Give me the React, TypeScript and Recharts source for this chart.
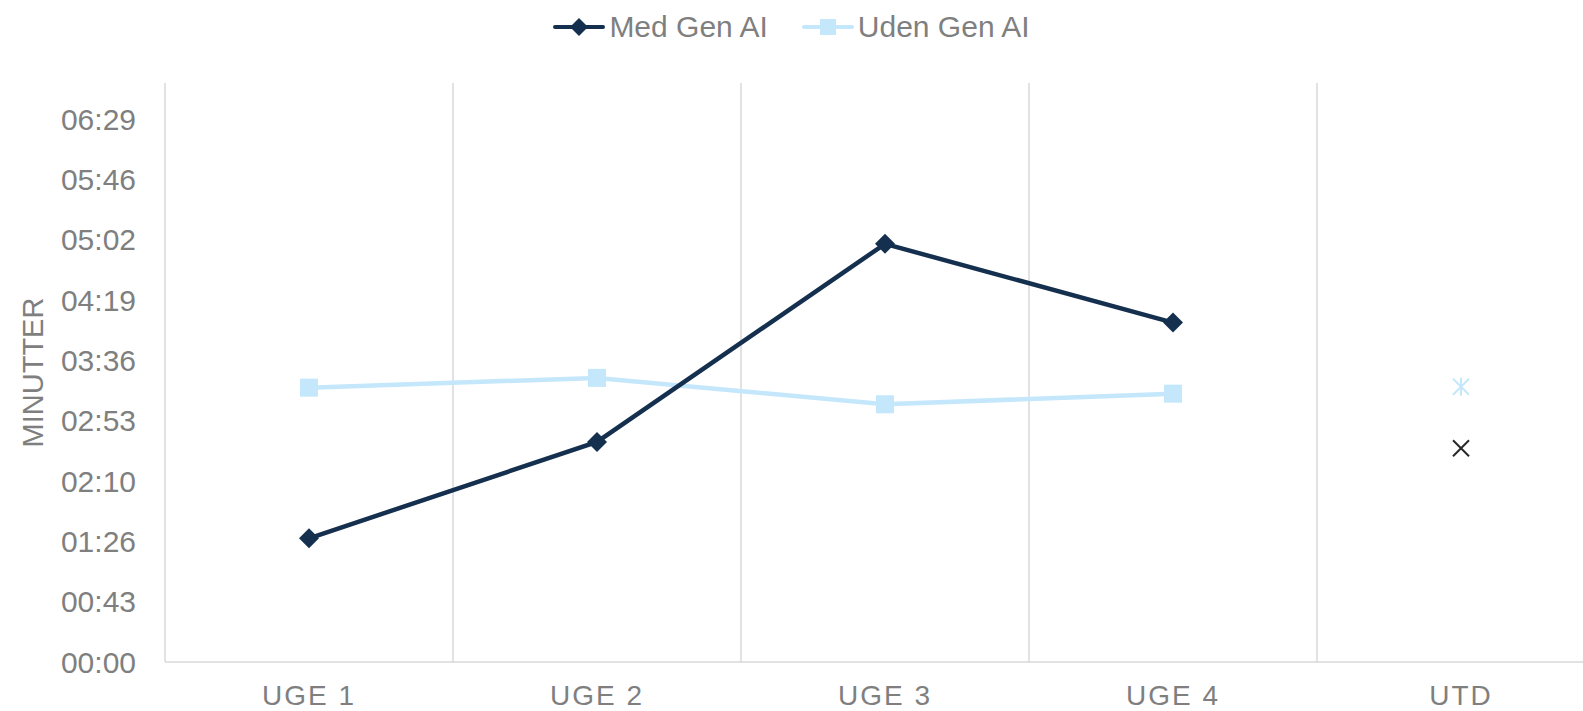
import React from 'react'
import { LineChart, Line, XAxis, YAxis, CartesianGrid } from 'recharts'

// values are in seconds
const categories = ['UGE 1', 'UGE 2', 'UGE 3', 'UGE 4', 'UTD']
const medGenAi = [88.6, 157.6, 299.5, 243.1, null]
const udenGenAi = [196.5, 203.5, 184.6, 192.2, null]
const medUtd = [null, null, null, null, 153.1]
const udenUtd = [null, null, null, null, 197.2]
const yTicks = [0, 43.2, 86.4, 129.6, 172.8, 216, 259.2, 302.4, 345.6, 388.8]
const yMax = 414.72

const DARK = '#15304f'
const LIGHT = '#c4e7fb'
const TEXT = '#7f7f7f'
const GRID = '#d9d9d9'
const FONT = '"Liberation Sans", Arial, sans-serif'

const CHART_W = 1640
const PLOT_LEFT = 165
const PLOT_RIGHT_MARGIN = 35
// half a category on each side so points sit in the middle of their band
const halfBand = (CHART_W - PLOT_LEFT - PLOT_RIGHT_MARGIN) / categories.length / 2

const data = categories.map((name, i) => ({
  name,
  med: medGenAi[i],
  uden: udenGenAi[i],
  medUtd: medUtd[i],
  udenUtd: udenUtd[i],
}))

function fmt(sec: number) {
  const s = Math.round(sec)
  const m = Math.floor(s / 60)
  const r = s % 60
  return String(m).padStart(2, '0') + ':' + String(r).padStart(2, '0')
}

const Diamond = ({ cx, cy, r = 10 }: any) =>
  cx == null || cy == null ? null : (
    <path d={`M${cx},${cy - r} L${cx + r},${cy} L${cx},${cy + r} L${cx - r},${cy} Z`} fill={DARK} />
  )

const Square = ({ cx, cy, s = 18 }: any) =>
  cx == null || cy == null ? null : (
    <rect x={cx - s / 2} y={cy - s / 2} width={s} height={s} fill={LIGHT} />
  )

const Cross = ({ cx, cy }: any) => {
  if (cx == null || cy == null) return null
  const d = 8
  return (
    <g stroke="#262626" strokeWidth={2}>
      <line x1={cx - d} y1={cy - d} x2={cx + d} y2={cy + d} />
      <line x1={cx - d} y1={cy + d} x2={cx + d} y2={cy - d} />
    </g>
  )
}

const Star = ({ cx, cy }: any) => {
  if (cx == null || cy == null) return null
  const d = 8
  return (
    <g stroke={LIGHT} strokeWidth={2}>
      <line x1={cx - d} y1={cy - d} x2={cx + d} y2={cy + d} />
      <line x1={cx - d} y1={cy + d} x2={cx + d} y2={cy - d} />
      <line x1={cx} y1={cy - d - 1} x2={cx} y2={cy + d + 1} />
    </g>
  )
}

function LegendItem({ color, label, square }: { color: string; label: string; square?: boolean }) {
  return (
    <div style={{ display: 'flex', alignItems: 'center' }}>
      <svg width={52} height={20}>
        <line x1={2} y1={10} x2={50} y2={10} stroke={color} strokeWidth={4} strokeLinecap="round" />
        {square ? <Square cx={26} cy={10} s={16} /> : <Diamond cx={26} cy={10} r={9} />}
      </svg>
      <span style={{ marginLeft: 4, fontSize: 30, color: TEXT }}>{label}</span>
    </div>
  )
}

export default function App() {
  return (
    <div
      style={{
        position: 'absolute',
        left: 0,
        top: 0,
        width: 1583,
        height: 711,
        overflow: 'hidden',
        background: '#fff',
        fontFamily: FONT,
      }}
    >
      <div
        style={{
          position: 'absolute',
          top: 10,
          left: 0,
          width: 1583,
          display: 'flex',
          justifyContent: 'center',
          gap: 34,
        }}
      >
        <LegendItem color={DARK} label="Med Gen AI" />
        <LegendItem color={LIGHT} label="Uden Gen AI" square />
      </div>
      <LineChart
        width={CHART_W}
        height={711}
        data={data}
        margin={{ top: 83, right: PLOT_RIGHT_MARGIN, left: 0, bottom: 0 }}
      >
        <CartesianGrid
          horizontal={false}
          stroke={GRID}
          strokeWidth={1.5}
          verticalCoordinatesGenerator={({ offset }: any) =>
            [0, 1, 2, 3, 4, 5].map((i) => offset.left + (i * offset.width) / categories.length)
          }
        />
        <XAxis
          dataKey="name"
          height={49}
          padding={{ left: halfBand, right: halfBand }}
          tickLine={false}
          tickSize={0}
          tickMargin={23}
          axisLine={{ stroke: GRID, strokeWidth: 1.5 }}
          tick={{ fill: TEXT, fontSize: 28, fontFamily: FONT, letterSpacing: 2 }}
        />
        <YAxis
          width={PLOT_LEFT}
          domain={[0, yMax]}
          ticks={yTicks}
          tickFormatter={fmt}
          axisLine={false}
          tickLine={false}
          tickSize={0}
          tickMargin={29}
          tick={{ fill: TEXT, fontSize: 30, fontFamily: FONT }}
          label={(props: any) => {
            const vb = props.viewBox
            const x = vb.x + 33
            const y = vb.y + vb.height / 2
            return (
              <text
                x={x}
                y={y}
                transform={`rotate(-90 ${x} ${y})`}
                textAnchor="middle"
                dominantBaseline="central"
                fill={TEXT}
                fontSize={29}
                fontFamily={FONT}
              >
                MINUTTER
              </text>
            )
          }}
        />
        <Line
          dataKey="uden"
          stroke={LIGHT}
          strokeWidth={4.5}
          dot={(p: any) => <Square key={'s' + p.index} cx={p.cx} cy={p.cy} />}
          activeDot={false}
          isAnimationActive={false}
        />
        <Line
          dataKey="med"
          stroke={DARK}
          strokeWidth={4.5}
          dot={(p: any) => <Diamond key={'d' + p.index} cx={p.cx} cy={p.cy} />}
          activeDot={false}
          isAnimationActive={false}
        />
        <Line
          dataKey="udenUtd"
          stroke="none"
          legendType="none"
          dot={(p: any) => <Star key={'a' + p.index} cx={p.cx} cy={p.cy} />}
          activeDot={false}
          isAnimationActive={false}
        />
        <Line
          dataKey="medUtd"
          stroke="none"
          legendType="none"
          dot={(p: any) => <Cross key={'x' + p.index} cx={p.cx} cy={p.cy} />}
          activeDot={false}
          isAnimationActive={false}
        />
      </LineChart>
    </div>
  )
}
